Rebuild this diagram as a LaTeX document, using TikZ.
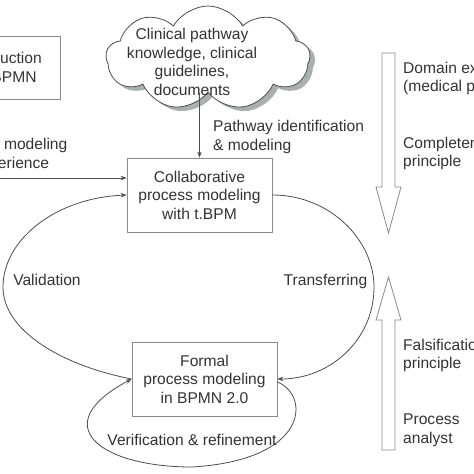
\documentclass[tikz,border=0pt]{standalone}
\usepackage{fontspec}
\setmainfont{Liberation Sans}
\usetikzlibrary{arrows.meta,shapes.symbols}
\definecolor{linegray}{HTML}{4D4D4D}
\definecolor{boxgray}{HTML}{8A8A8A}
\definecolor{textgray}{HTML}{333333}
\definecolor{shadowgray}{HTML}{A8B0B0}
\begin{document}
\begin{tikzpicture}[x=1pt,y=-1pt,
        every node/.style={font=\fontsize{15.6}{18.5}\selectfont, text=textgray},
        box/.style={draw=boxgray, line width=0.8pt, align=center, inner sep=0pt},
        cloudshape/.style={cloud, cloud puffs=9, cloud puff arc=120, cloud ignores aspect, line width=0.8pt,
            minimum width=204pt, minimum height=104pt},
        flow/.style={draw=linegray, line width=0.8pt, -{Stealth[length=6pt,width=4.5pt]}},
        lab/.style={inner sep=0pt, align=left},
        bigarrow/.style={draw=boxgray, line width=0.8pt, fill=white}]
        \useasboundingbox (0,0) rectangle (474,474);
        \clip (0,0) rectangle (474,474);

        \node[cloudshape, fill=shadowgray] (cloudshadow) at (213,62) {};
        \node[cloudshape, draw=linegray, fill=white] (cloud) at (208,58) {};
        \node[lab, align=center] (cloudtext) at (192,62) {Clinical pathway\\knowledge, clinical\\guidelines,\\documents};

        \node[box, minimum width=118pt, minimum height=63pt] (intro) at (1,67.5) {Introduction\\of t.BPMN};
        \node[box, minimum width=145pt, minimum height=74pt] (coll) at (199.5,195) {Collaborative\\process modeling\\with t.BPM};
        \node[box, minimum width=145pt, minimum height=74pt] (formal) at (204.5,379) {Formal\\process modeling\\in BPMN 2.0};

        \draw[flow] (cloud.south -| coll.north) -- (coll.north);
        \node[lab, anchor=west] (pathlab) at (213,137) {Pathway identification\\\& modeling};

        \coordinate (expin) at (-5,178);
        \draw[flow] (expin) -- (expin -| coll.west);
        \node[lab, align=center] (explab) at (11,155) {Expert modeling\\experience};

        \draw[flow] (formal.west) .. controls (60,365) and (3,330) .. (3,287) .. controls (3,240) and (55,198) .. (coll.west);
        \draw[flow] (coll.east) .. controls (330,195) and (374,240) .. (374,287) .. controls (374,340) and (330,379) .. (formal.east);
        \draw[flow] ([yshift=-3pt]formal.east) .. controls (310,395) and (310,460) .. (192,467) .. controls (100,467) and (45,425) .. (formal.west);

        \node (vallab) at (47,280) {Validation};
        \node (translab) at (325.5,281) {Transferring};
        \node (veriflab) at (192,440) {Verification \& refinement};

        \draw[bigarrow] (382,53) -- (395,53) -- (395,187) -- (401,187) -- (388.5,233) -- (376,187) -- (382,187) -- cycle;
        \draw[bigarrow] (382,450) -- (395,450) -- (395,320) -- (401,320) -- (388.5,277) -- (376,320) -- (382,320) -- cycle;

        \node[lab, anchor=north west] (expert) at (403,61.8) {Domain expert\\(medical professional)};
        \node[lab, anchor=north west] (complete) at (403,136.8) {Completeness\\principle};
        \node[lab, anchor=north west] (falsify) at (403,338.8) {Falsification\\principle};
        \node[lab, anchor=north west] (analyst) at (403,413.8) {Process\\analyst};
    \end{tikzpicture}
\end{document}
